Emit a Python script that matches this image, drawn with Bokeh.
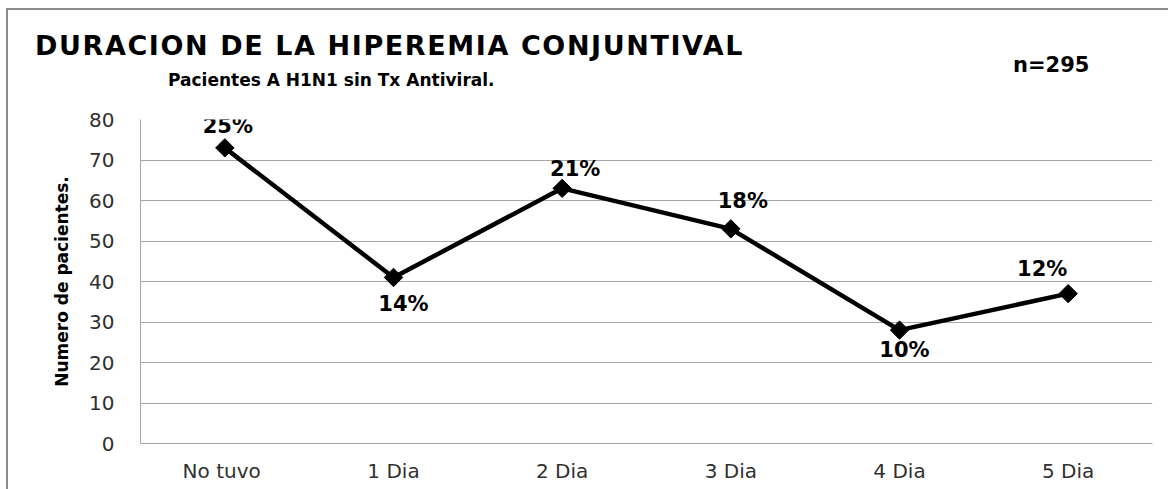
from bokeh.plotting import figure
from bokeh.models import ColumnDataSource, FactorRange, Range1d, FixedTicker, LabelSet, Div
from bokeh.layouts import column
from bokeh.core.properties import value
from bokeh.embed import file_html
from bokeh.resources import INLINE
import math

# ---- data ----
categories = ["No  tuvo", "1 Dia", "2 Dia", "3 Dia", "4 Dia", "5 Dia"]
patients = [73, 41, 63, 53, 28, 37]
percent_labels = ["25%", "14%", "21%", "18%", "10%", "12%"]
y_ticks = [0, 10, 20, 30, 40, 50, 60, 70, 80]

title_text = "DURACION DE LA HIPEREMIA CONJUNTIVAL"
subtitle_text = "Pacientes A H1N1 sin Tx Antiviral."
n_text = "n=295"
y_title = "Numero de pacientes."

# label placement (style)
label_dx = [3, 10, 13, 12, 5, -26]
label_dy = [22, -27, 19, 28, -20, 25]

FONT = "DejaVu Sans"
GRID = "#a6a6a6"
FRAME_COL = "#8c8c8c"
W, H, HEAD_H = 1168, 489, 90

# ---- heading (HTML text) ----
def span(txt, left, cy, size, spacing=0):
    return (f'<span style="position:absolute; left:{left}px; top:{cy}px; line-height:0; '
            f'white-space:nowrap; font-family:\'{FONT}\'; font-weight:bold; '
            f'letter-spacing:{spacing}px; font-size:{size}px; color:black;">{txt}</span>')

head_html = ('<div style="position:relative; width:%dpx; height:%dpx;">' % (W - 20, HEAD_H - 10)
             + span(title_text, 30, 41, 27, 1.6)
             + span(subtitle_text, 163, 75, 17)
             + span(n_text, 1008, 60, 21)
             + '</div>')
head = Div(text=head_html, width=W, height=HEAD_H, styles={"background": "transparent"})

# ---- chart ----
p = figure(
    x_range=FactorRange(*categories, range_padding=0),
    y_range=Range1d(0, 80),
    width=W, height=H - HEAD_H - 10,
    output_backend="svg", toolbar_location=None,
    min_border_left=140, min_border_top=19,
    min_border_right=16, min_border_bottom=46,
)
p.border_fill_color = None
p.background_fill_color = "white"
p.outline_line_color = None

p.xgrid.grid_line_color = None
p.ygrid.grid_line_color = GRID
p.ygrid.grid_line_width = 1

p.yaxis.ticker = FixedTicker(ticks=y_ticks)
for ax in (p.xaxis, p.yaxis):
    ax.axis_line_color = GRID
    ax.axis_line_width = 1
    ax.major_tick_line_color = None
    ax.minor_tick_line_color = None
    ax.major_tick_in = 0
    ax.major_tick_out = 0
    ax.major_label_text_font = FONT
    ax.major_label_text_font_size = "20px"
    ax.major_label_text_color = "#303030"

p.yaxis.major_label_standoff = 26
p.xaxis.major_label_standoff = 15
p.yaxis.axis_label = y_title
p.yaxis.axis_label_text_font = FONT
p.yaxis.axis_label_text_font_style = "bold"
p.yaxis.axis_label_text_font_size = "17px"
p.yaxis.axis_label_text_color = "black"
p.yaxis.axis_label_standoff = 14

src = ColumnDataSource(dict(x=categories, y=patients, text=percent_labels,
                            dx=label_dx, dy=label_dy))

p.line("x", "y", source=src, line_color="black", line_width=4.5)
p.scatter("x", "y", source=src, marker="square", size=13, angle=math.pi / 4,
          fill_color="black", line_color="black")

labels = LabelSet(x="x", y="y", text="text", source=src, x_offset="dx", y_offset="dy",
                  text_align="center", text_baseline="middle",
                  text_font=value(FONT), text_font_style="bold", text_font_size="21px",
                  text_color="black")
p.add_layout(labels)

layout = column(head, p, spacing=0, styles={
    "background": (f"linear-gradient({FRAME_COL},{FRAME_COL}) 7px 8px / 100% 2px no-repeat, "
                   f"linear-gradient({FRAME_COL},{FRAME_COL}) 6px 8px / 2px 100% no-repeat, white"),
})

open("out.html", "w").write(file_html(layout, INLINE))
